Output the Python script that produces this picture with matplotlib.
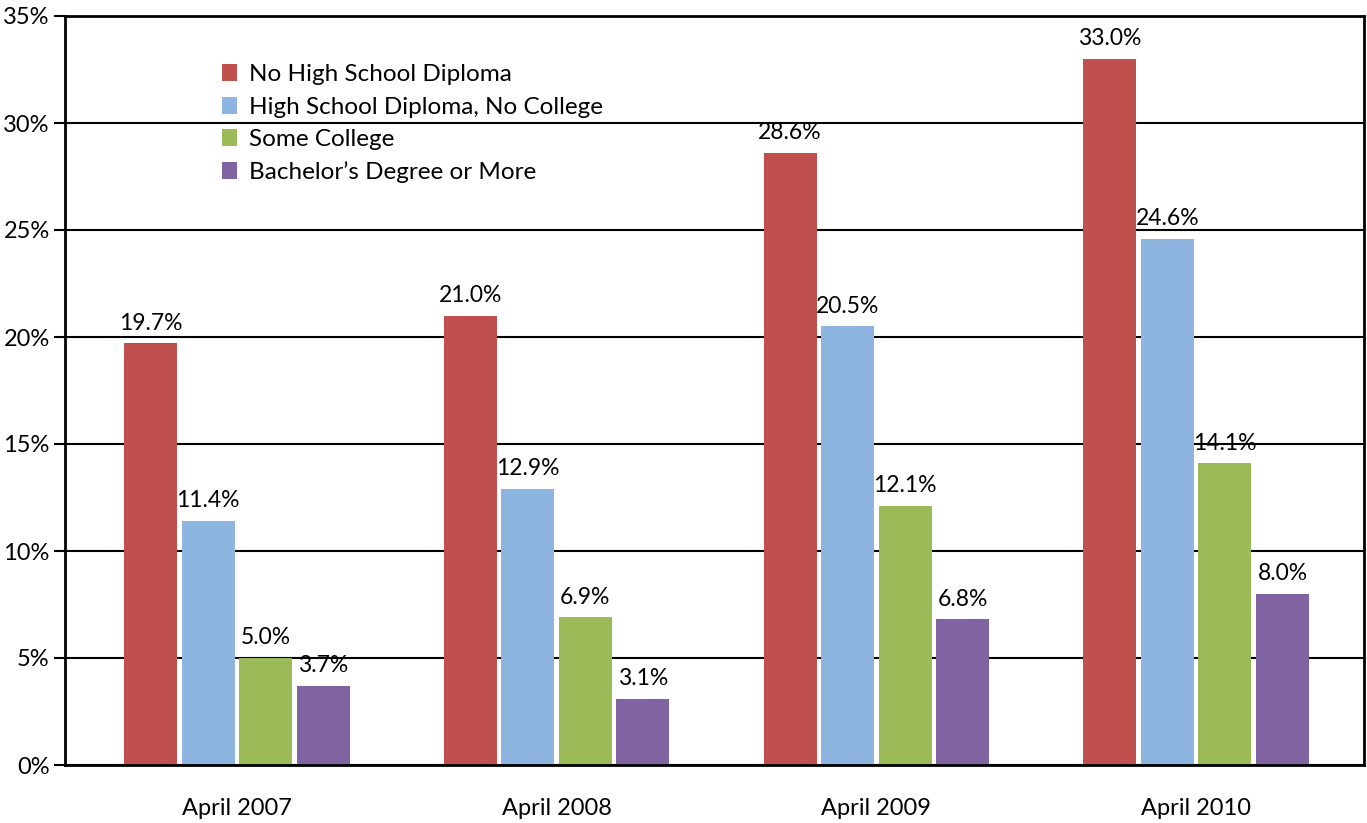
import matplotlib.pyplot as plt
import numpy as np

plt.rcParams['font.family'] = ['Lato', 'DejaVu Sans']

periods = ["April 2007", "April 2008", "April 2009", "April 2010"]
series_names = ["No High School Diploma", "High School Diploma, No College",
                "Some College", "Bachelor\u2019s Degree or More"]
no_hs = [19.7, 21.0, 28.6, 33.0]
hs_no_college = [11.4, 12.9, 20.5, 24.6]
some_college = [5.0, 6.9, 12.1, 14.1]
bachelors = [3.7, 3.1, 6.8, 8.0]
colors = ["#C0504D", "#8EB4E0", "#9BBB59", "#8064A2"]

fig = plt.figure(figsize=(13.67, 8.23), dpi=100)
ax = fig.add_axes([65 / 1367, 58 / 823, 1299 / 1367, 749 / 823])

x = np.arange(len(periods))
width = 0.166
step = 0.18
all_series = [no_hs, hs_no_college, some_college, bachelors]
for i, (vals, name, c) in enumerate(zip(all_series, series_names, colors)):
    pos = x + (i - 1.5) * step
    ax.bar(pos, vals, width=width, color=c, label=name, zorder=3)
    for p, v in zip(pos, vals):
        ax.annotate(f"{v:.1f}%", (p, v), xytext=(0, 7), textcoords="offset points",
                    ha="center", va="bottom", fontsize=16.5, zorder=4)

ax.set_xlim(-0.5375, 3.525)
ax.set_ylim(0, 35)
ax.set_yticks(np.arange(0, 36, 5))
ax.set_yticklabels([f"{t}%" for t in range(0, 36, 5)], fontsize=17)
ax.set_xticks(x)
ax.set_xticklabels(periods, fontsize=17)
ax.tick_params(axis="x", length=0, pad=24)
ax.tick_params(axis="y", length=8, width=1.5, pad=3, direction="out")
ax.yaxis.grid(True, color="black", linewidth=1.5, zorder=1)
for s in ax.spines.values():
    s.set_linewidth(2)
    s.set_zorder(5)

leg = ax.legend(loc="upper left", bbox_to_anchor=(0.104, 0.965), frameon=False,
                fontsize=17.5, handlelength=0.6, handleheight=0.7,
                handletextpad=0.5, labelspacing=0.47)

fig.savefig("out.png", dpi=100)
